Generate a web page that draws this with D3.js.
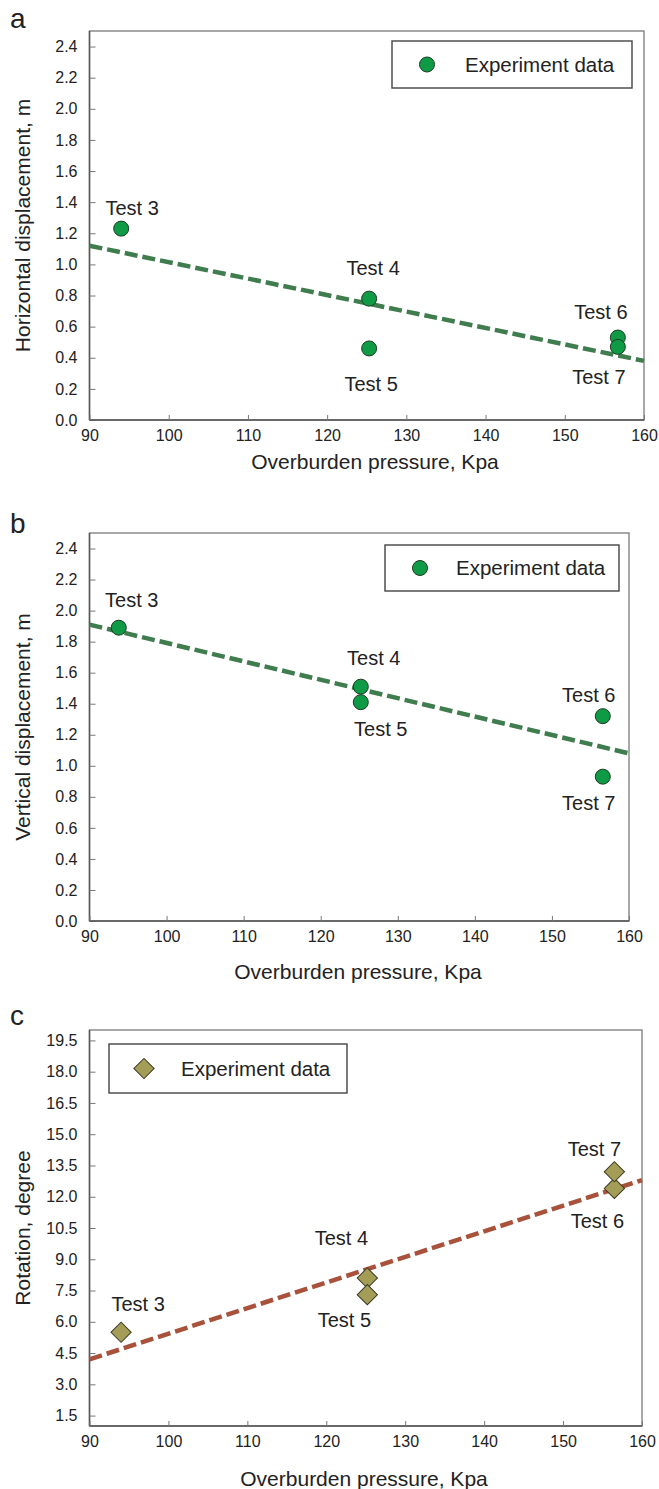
<!DOCTYPE html>
<html>
<head>
<meta charset="utf-8">
<script src="https://cdn.jsdelivr.net/npm/d3@7"></script>
<style>
  body { margin: 0; background: #fff; }
  text { font-family: "Liberation Sans", Arial, sans-serif; fill: #222; }
</style>
</head>
<body>
<div id="chart"></div>
<script>
// ---- data ----
const testNames = ["Test 3", "Test 4", "Test 5", "Test 6", "Test 7"];

// (a) horizontal displacement
const pressureA = [94, 125.3, 125.3, 156.7, 156.7];
const horizontalDisp = [1.23, 0.78, 0.46, 0.53, 0.47];
const horizontalTrend = [[90, 1.12], [160, 0.38]];

// (b) vertical displacement
const pressureB = [93.8, 125.2, 125.2, 156.6, 156.6];
const verticalDisp = [1.89, 1.51, 1.41, 1.32, 0.93];
const verticalTrend = [[90, 1.91], [160, 1.08]];

// (c) rotation
const pressureC = [94, 125.2, 125.2, 156.5, 156.5];
const rotationDeg = [5.5, 8.1, 7.3, 12.4, 13.2];
const rotationTrend = [[90, 4.2], [160, 12.8]];

// tick values
const pressureTicks = [90, 100, 110, 120, 130, 140, 150, 160];
const dispTicks = [0, 0.2, 0.4, 0.6, 0.8, 1.0, 1.2, 1.4, 1.6, 1.8, 2.0, 2.2, 2.4];
const rotationTicks = [1.5, 3, 4.5, 6, 7.5, 9, 10.5, 12, 13.5, 15, 16.5, 18, 19.5];

const W = 659, H = 1489;

// layout for each panel (pixels)
const panels = [
  {
    letter: "a", letterY: 28,
    left: 89.5, right: 644, top: 31, bottom: 420,
    yDomain: [0, 2.5], yTicks: dispTicks, yFormat: d3.format(".1f"),
    xs: pressureA, ys: horizontalDisp, trend: horizontalTrend,
    yTitle: "Horizontal displacement, m", xTitleX: 375, xTitleY: 469,
    marker: "circle", lineColor: "#3f7c4e",
    legend: {x: 392, y: 41, w: 240, h: 47, mx: 427, tx: 465},
    labelOffsets: [[11, -21], [4, -31], [2, 35], [-17, -26], [-19, 30]]
  },
  {
    letter: "b", letterY: 533,
    left: 89.5, right: 629, top: 533, bottom: 921,
    yDomain: [0, 2.5], yTicks: dispTicks, yFormat: d3.format(".1f"),
    xs: pressureB, ys: verticalDisp, trend: verticalTrend,
    yTitle: "Vertical displacement, m", xTitleX: 358, xTitleY: 979,
    marker: "circle", lineColor: "#3f7c4e",
    legend: {x: 385, y: 545, w: 234, h: 46, mx: 420, tx: 456},
    labelOffsets: [[13, -28], [13, -29], [20, 27], [-14, -21], [-14, 26]]
  },
  {
    letter: "c", letterY: 1025,
    left: 89.5, right: 642, top: 1030, bottom: 1426,
    yDomain: [1, 20], yTicks: rotationTicks, yFormat: d3.format(".1f"),
    xs: pressureC, ys: rotationDeg, trend: rotationTrend,
    yTitle: "Rotation, degree", xTitleX: 364, xTitleY: 1486,
    marker: "diamond", lineColor: "#a8523b",
    legend: {x: 109, y: 1044, w: 238, h: 49, mx: 144, tx: 181},
    labelOffsets: [[17, -28], [-26, -40], [-23, 25], [-17, 32], [-20, -23]]
  }
];

const svg = d3.select("#chart").append("svg")
  .attr("width", W)
  .attr("height", H);

function drawMarker(g, kind, x, y) {
  if (kind === "circle") {
    g.append("circle")
      .attr("cx", x).attr("cy", y).attr("r", 7.5)
      .attr("fill", "#0f9a45")
      .attr("stroke", "#1d3b22")
      .attr("stroke-width", 1);
  } else {
    g.append("path")
      .attr("d", d3.symbol(d3.symbolSquare, 205)())
      .attr("transform", "translate(" + x + "," + y + ") rotate(45)")
      .attr("fill", "#a39d58")
      .attr("stroke", "#3b3a22")
      .attr("stroke-width", 1);
  }
}

panels.forEach(p => {
  const xScale = d3.scaleLinear().domain([90, 160]).range([p.left, p.right]);
  const yScale = d3.scaleLinear().domain(p.yDomain).range([p.bottom, p.top]);
  const g = svg.append("g");

  // panel letter
  g.append("text")
    .attr("x", 10).attr("y", p.letterY)
    .style("font-size", "28px")
    .text(p.letter);

  // frame
  g.append("rect")
    .attr("x", p.left).attr("y", p.top)
    .attr("width", p.right - p.left).attr("height", p.bottom - p.top)
    .attr("fill", "none").attr("stroke", "#7a7a7a").attr("stroke-width", 1.3);

  // y axis (ticks point inwards)
  const yAxis = d3.axisLeft(yScale).tickValues(p.yTicks).tickFormat(p.yFormat)
    .tickSize(-6).tickPadding(12);
  const yg = g.append("g").attr("transform", "translate(" + p.left + ",0)").call(yAxis);
  yg.select(".domain").attr("stroke", "#555").attr("stroke-width", 1.5)
    .attr("d", "M0," + p.top + "V" + p.bottom);
  yg.selectAll(".tick line").attr("stroke", "#777");
  yg.selectAll(".tick text").style("font-size", "16px").attr("fill", "#333");

  // x axis
  const xAxis = d3.axisBottom(xScale).tickValues(pressureTicks).tickFormat(d3.format("d"))
    .tickSize(-5).tickPadding(10);
  const xg = g.append("g").attr("transform", "translate(0," + p.bottom + ")").call(xAxis);
  xg.select(".domain").attr("stroke", "#555").attr("stroke-width", 1.5)
    .attr("d", "M" + p.left + ",0H" + p.right);
  xg.selectAll(".tick line").attr("stroke", "#777");
  xg.selectAll(".tick text").style("font-size", "16px").attr("fill", "#333");

  // axis titles
  g.append("text")
    .attr("x", p.xTitleX).attr("y", p.xTitleY)
    .attr("text-anchor", "middle")
    .style("font-size", "21px")
    .text("Overburden pressure, Kpa");

  g.append("text")
    .attr("transform", "translate(30," + ((p.top + p.bottom) / 2) + ") rotate(-90)")
    .attr("text-anchor", "middle")
    .style("font-size", "21px")
    .text(p.yTitle);

  // dashed trend line
  const line = d3.line().x(d => xScale(d[0])).y(d => yScale(d[1]));
  g.append("path")
    .datum(p.trend)
    .attr("d", line)
    .attr("fill", "none")
    .attr("stroke", p.lineColor)
    .attr("stroke-width", 4.5)
    .attr("stroke-dasharray", "13,5");

  // points + labels
  const pts = g.append("g");
  p.xs.forEach((xv, i) => {
    const px = xScale(xv), py = yScale(p.ys[i]);
    drawMarker(pts, p.marker, px, py);
    const off = p.labelOffsets[i];
    g.append("text")
      .attr("x", px + off[0]).attr("y", py + off[1])
      .attr("dy", "0.36em")
      .attr("text-anchor", "middle")
      .style("font-size", "20px")
      .text(testNames[i]);
  });

  // legend
  const L = p.legend;
  const lg = g.append("g");
  lg.append("rect")
    .attr("x", L.x).attr("y", L.y).attr("width", L.w).attr("height", L.h)
    .attr("fill", "#fff").attr("stroke", "#444").attr("stroke-width", 1.4);
  drawMarker(lg, p.marker, L.mx, L.y + L.h / 2);
  lg.append("text")
    .attr("x", L.tx).attr("y", L.y + L.h / 2)
    .attr("dy", "0.36em")
    .style("font-size", "20.5px")
    .text("Experiment data");
});
</script>
</body>
</html>
